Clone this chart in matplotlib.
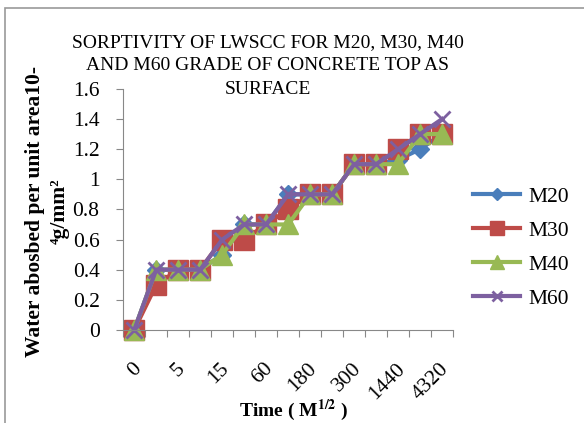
import matplotlib
matplotlib.use("Agg")
import matplotlib.pyplot as plt
from matplotlib.patches import Rectangle
from matplotlib.transforms import ScaledTranslation

# time categories (only every other one is labelled on the axis)
times = ["0", "1", "5", "10", "15", "30", "60", "120", "180", "240",
         "300", "600", "1440", "2880", "4320"]
m20 = [0, 0.4, 0.4, 0.4, 0.5, 0.7, 0.7, 0.9, 0.9, 0.9, 1.1, 1.1, 1.13, 1.2, 1.3]
m30 = [0, 0.3, 0.4, 0.4, 0.6, 0.6, 0.7, 0.8, 0.9, 0.9, 1.1, 1.1, 1.2, 1.3, 1.3]
m40 = [0, 0.4, 0.4, 0.4, 0.5, 0.7, 0.7, 0.7, 0.9, 0.9, 1.1, 1.1, 1.1, 1.3, 1.3]
m60 = [0, 0.4, 0.4, 0.4, 0.6, 0.7, 0.7, 0.9, 0.9, 0.9, 1.1, 1.1, 1.2, 1.3, 1.4]
yticks = [0, 0.2, 0.4, 0.6, 0.8, 1, 1.2, 1.4, 1.6]
title_lines = ["SORPTIVITY OF LWSCC FOR M20, M30, M40",
               "AND M60 GRADE OF CONCRETE TOP AS", "SURFACE"]

plt.rcParams["font.family"] = ["Liberation Serif", "DejaVu Serif"]
plt.rcParams["mathtext.fontset"] = "stix"

fig = plt.figure(figsize=(5.84, 4.23), dpi=100)
ax = fig.add_axes([0.211, 0.22, 0.565, 0.570])

x = list(range(len(times)))
series = [
    ("M20", m20, "#4A7EBB", "D", 9),
    ("M30", m30, "#BE4B48", "s", 14),
    ("M40", m40, "#98B954", "^", 14),
    ("M60", m60, "#7D60A0", "x", 11),
]
for name, vals, color, marker, ms in series:
    ax.plot(x, vals, color=color, lw=3, marker=marker, ms=ms,
            mew=2 if marker == "x" else 1, label=name, clip_on=False)

ax.set_xlim(-0.5, len(times) - 0.5)
ax.set_ylim(0, 1.6)
ax.set_yticks(yticks)
ax.set_yticklabels([f"{v:g}" for v in yticks], fontsize=15.5)
ax.set_xticks([i - 0.5 for i in range(len(times) + 1)])
ax.set_xticklabels([])
ax.set_xticks(x[::2], minor=True)
ax.set_xticklabels(times[::2], minor=True, rotation=45, ha="right",
                   va="center", rotation_mode="anchor", fontsize=15.5)
ax.tick_params(axis="x", which="minor", length=0, pad=26)
ax.tick_params(axis="both", which="major", length=5, color="#888888")
ax.tick_params(axis="y", pad=12)
# nudge the rotated labels a little to the right
shift = ScaledTranslation(4 / 100, 0, fig.dpi_scale_trans)
for lbl in ax.get_xticklabels(minor=True):
    lbl.set_transform(lbl.get_transform() + shift)
for s in ("top", "right"):
    ax.spines[s].set_visible(False)
for s in ("left", "bottom"):
    ax.spines[s].set_color("#888888")

for i, line in enumerate(title_lines):
    fig.text(0.458, 1 - (43 + 23 * i) / 423, line, ha="center",
             va="center", fontsize=14)
fig.text(0.502, 0.03, r"Time ( M$^{\mathbf{1/2}}$ )", ha="center",
         va="center", fontsize=14, fontweight="bold")
fig.text(0.06, 0.50, "Water abosbed per unit area10-", rotation=90,
         ha="center", va="center", fontsize=15.5, fontweight="bold")
fig.text(0.103, 0.50, "⁴g/mm²", rotation=90, ha="center", va="center",
         fontsize=15.5, fontweight="bold")

fig.legend(loc="center left", bbox_to_anchor=(0.795, 0.414), frameon=False,
           fontsize=15.5, handlelength=2.2, handletextpad=0.4,
           labelspacing=0.65, markerscale=0.7, borderaxespad=0)

fig.patches.append(Rectangle((0.009, -0.01), 1.0, 0.99,
                             transform=fig.transFigure, fill=False,
                             edgecolor="#999999", lw=1.2))

fig.savefig("out.png", dpi=100)
